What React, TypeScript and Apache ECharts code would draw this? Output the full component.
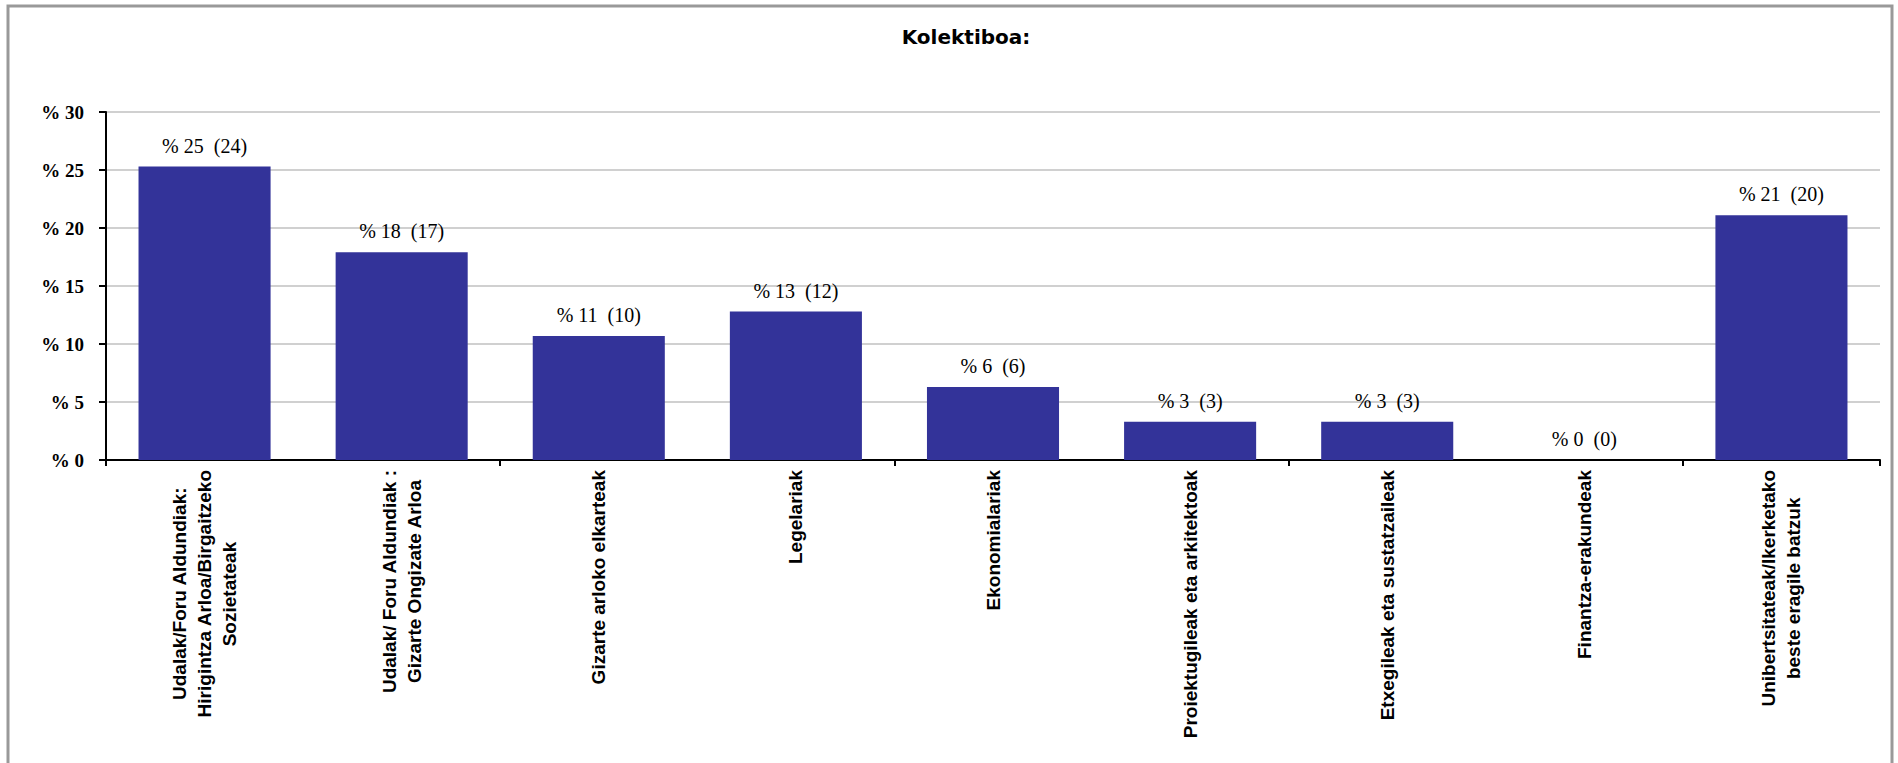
import React, { useEffect, useRef } from "react";
import * as echarts from "echarts";

const categories: string[] = [
  "Udalak/Foru Aldundiak:\nHirigintza Arloa/Birgaitzeko\nSozietateak",
  "Udalak/ Foru Aldundiak :\nGizarte Ongizate Arloa",
  "Gizarte arloko elkarteak",
  "Legelariak",
  "Ekonomialariak",
  "Proiektugileak eta arkitektoak",
  "Etxegileak eta sustatzaileak",
  "Finantza-erakundeak",
  "Unibertsitateak/Ikerketako\nbeste eragile batzuk",
];
const percents: number[] = [25.3, 17.9, 10.7, 12.8, 6.3, 3.3, 3.3, 0, 21.1];
const counts: number[] = [24, 17, 10, 12, 6, 3, 3, 0, 20];
const pctLabels: string[] = ["25", "18", "11", "13", "6", "3", "3", "0", "21"];
const yTicks: number[] = [0, 5, 10, 15, 20, 25, 30];

const CAT_FONT_SIZE = 19;
const CAT_FONT = `bold ${CAT_FONT_SIZE}px "Liberation Sans"`;
const CAT_LINE_HEIGHT = 25;
const CAT_MARGIN = 10;

const border = {
  type: "rect",
  id: "border",
  shape: { x: 8, y: 6, width: 1884, height: 780 },
  style: { fill: "none", stroke: "#999999", lineWidth: 3 },
  silent: true,
  z: 100,
};

export default function App() {
  const ref = useRef<HTMLDivElement>(null);
  useEffect(() => {
    if (!ref.current) return;
    const chart = echarts.init(ref.current, undefined, { renderer: "svg" });
    chart.setOption({
      animation: false,
      backgroundColor: "#ffffff",
      title: {
        text: "Kolektiboa:",
        left: 961,
        top: 22,
        textAlign: "center",
        textStyle: {
          fontFamily: "DejaVu Sans",
          fontWeight: "bold",
          fontSize: 20,
          color: "#000",
        },
      },
      graphic: [border],
      grid: { left: 106, right: 18, top: 112, bottom: 303, containLabel: false },
      xAxis: {
        type: "category",
        data: categories,
        boundaryGap: true,
        axisLine: { show: true, lineStyle: { color: "#000", width: 2 } },
        axisTick: { show: true, length: 6, alignWithLabel: false, lineStyle: { color: "#000", width: 2 } },
        axisLabel: { show: false },
        splitLine: { show: false },
      },
      yAxis: {
        type: "value",
        min: yTicks[0],
        max: yTicks[yTicks.length - 1],
        interval: 5,
        axisLine: { show: true, lineStyle: { color: "#000", width: 2 } },
        axisTick: { show: true, length: 7, lineStyle: { color: "#000", width: 2 } },
        axisLabel: {
          margin: 22,
          formatter: (v: number) => `% ${v}`,
          fontFamily: "Liberation Serif",
          fontWeight: "bold",
          fontSize: 19,
          color: "#000",
        },
        splitLine: { show: true, lineStyle: { color: "#c0c0c0", width: 1.5 } },
      },
      series: [
        {
          type: "bar",
          data: percents,
          barCategoryGap: "33%",
          itemStyle: { color: "#333399" },
          label: {
            show: true,
            position: "top",
            distance: 11,
            formatter: (p: any) => `% ${pctLabels[p.dataIndex]}  (${counts[p.dataIndex]})`,
            fontFamily: "Liberation Serif",
            fontSize: 20,
            color: "#000",
          },
        },
      ],
    });

    // Category labels: rotated, each line centred within its block, block end at the axis.
    const canvas = document.createElement("canvas");
    const ctx = canvas.getContext("2d")!;
    ctx.font = CAT_FONT;
    const texts: any[] = [];
    categories.forEach((cat, i) => {
      const pt = chart.convertToPixel({ xAxisIndex: 0, yAxisIndex: 0 }, [i, 0]) as number[];
      const lines = cat.split("\n");
      const widths = lines.map((l) => ctx.measureText(l).width);
      const maxW = Math.max(...widths);
      const n = lines.length;
      lines.forEach((l, j) => {
        texts.push({
          type: "text",
          id: `cat_${i}_${j}`,
          x: pt[0] + (j - (n - 1) / 2) * CAT_LINE_HEIGHT,
          y: pt[1] + CAT_MARGIN + (maxW - widths[j]) / 2,
          rotation: Math.PI / 2,
          silent: true,
          style: {
            text: l,
            fontFamily: "Liberation Sans",
            fontWeight: "bold",
            fontSize: CAT_FONT_SIZE,
            fill: "#000",
            align: "right",
            verticalAlign: "middle",
          },
        });
      });
    });
    chart.setOption({ graphic: [border, ...texts] });
    return () => chart.dispose();
  }, []);
  return (
    <div
      ref={ref}
      style={{ position: "fixed", left: 0, top: 0, width: 1898, height: 763 }}
    />
  );
}
